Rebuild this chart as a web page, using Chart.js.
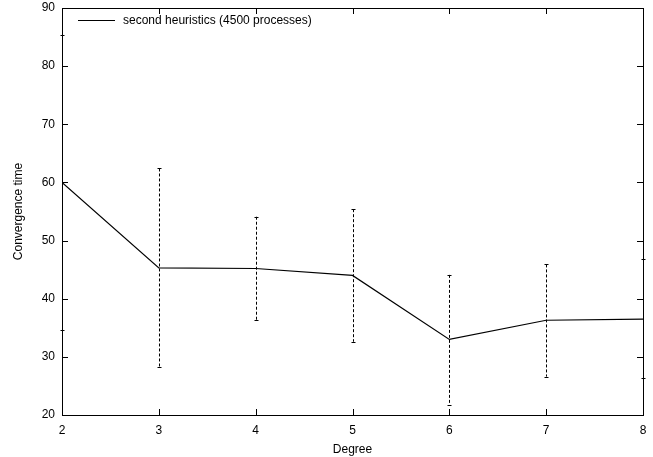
<!DOCTYPE html>
<html>
<head>
<meta charset="utf-8">
<script src="https://cdn.jsdelivr.net/npm/chart.js@4"></script>
<style>
  html, body { margin: 0; padding: 0; background: #fff; }
  #wrap { width: 653px; height: 457px; }
</style>
</head>
<body>
<div id="wrap"><canvas id="chart" width="653" height="457"></canvas></div>
<script>
// values
const degrees = [2, 3, 4, 5, 6, 7, 8];
const meanTime = [60.0, 45.3, 45.2, 44.0, 33.0, 36.3, 36.5];
const lowTime = [34.7, 28.2, 36.3, 32.6, 21.8, 26.6, 26.3];
const highTime = [85.3, 62.4, 54.1, 55.4, 44.1, 45.9, 46.8];
const seriesLabel = "second heuristics (4500 processes)";

const FONT = "'Liberation Sans', Arial, sans-serif";

// gnuplot-like frame, inward ticks, error bars and key
const gnuplotLook = {
  id: "gnuplotLook",
  afterDatasetsDraw(chart) {
    const ctx = chart.ctx;
    const area = chart.chartArea;
    const xs = chart.scales.x;
    const ys = chart.scales.y;
    const tick = 6;

    ctx.save();
    ctx.strokeStyle = "#000";
    ctx.lineWidth = 1;

    // error bars (dashed)
    ctx.setLineDash([3, 2]);
    for (let i = 0; i < degrees.length; i++) {
      const px = Math.round(xs.getPixelForValue(degrees[i])) + 0.5;
      const top = ys.getPixelForValue(highTime[i]);
      const bot = ys.getPixelForValue(lowTime[i]);
      ctx.beginPath();
      ctx.moveTo(px, top);
      ctx.lineTo(px, bot);
      ctx.stroke();
    }
    ctx.setLineDash([]);
    for (let i = 0; i < degrees.length; i++) {
      const px = Math.round(xs.getPixelForValue(degrees[i])) + 0.5;
      [highTime[i], lowTime[i]].forEach(function (v) {
        const py = Math.round(ys.getPixelForValue(v)) + 0.5;
        ctx.beginPath();
        ctx.moveTo(px - 2, py);
        ctx.lineTo(px + 2, py);
        ctx.stroke();
      });
    }

    // ticks on all four sides
    ctx.beginPath();
    xs.ticks.forEach(function (t) {
      const px = Math.round(xs.getPixelForValue(t.value)) + 0.5;
      ctx.moveTo(px, area.bottom);
      ctx.lineTo(px, area.bottom - tick);
      ctx.moveTo(px, area.top);
      ctx.lineTo(px, area.top + tick);
    });
    ys.ticks.forEach(function (t) {
      const py = Math.round(ys.getPixelForValue(t.value)) + 0.5;
      ctx.moveTo(area.left, py);
      ctx.lineTo(area.left + tick, py);
      ctx.moveTo(area.right, py);
      ctx.lineTo(area.right - tick, py);
    });
    ctx.stroke();

    // frame
    ctx.strokeRect(Math.round(area.left) + 0.5, Math.round(area.top) + 0.5,
      Math.round(area.right - area.left), Math.round(area.bottom - area.top));

    // key
    const ky = area.top + 12.5;
    ctx.beginPath();
    ctx.moveTo(area.left + 16, ky);
    ctx.lineTo(area.left + 53, ky);
    ctx.stroke();
    ctx.fillStyle = "#000";
    ctx.font = "12px " + FONT;
    ctx.textBaseline = "middle";
    ctx.textAlign = "left";
    ctx.fillText(seriesLabel, area.left + 61, ky);
    ctx.restore();
  }
};

const ctx = document.getElementById("chart").getContext("2d");
new Chart(ctx, {
  type: "line",
  data: {
    labels: degrees,
    datasets: [
      {
        label: seriesLabel,
        data: degrees.map(function (d, i) { return { x: d, y: meanTime[i] }; }),
        borderColor: "#000",
        borderWidth: 1.2,
        pointRadius: 0,
        fill: false,
        tension: 0,
      },
    ],
  },
  options: {
    responsive: false,
    animation: false,
    layout: { padding: { top: 8, right: 10, left: 0, bottom: 0 } },
    plugins: {
      legend: { display: false },
      tooltip: { enabled: false },
    },
    scales: {
      x: {
        type: "linear",
        min: 2,
        max: 8,
        grid: { display: false, drawTicks: false },
        border: { display: false },
        ticks: {
          stepSize: 1,
          color: "#000",
          padding: 8,
          font: { family: FONT, size: 12 },
        },
        title: {
          display: true,
          text: "Degree",
          color: "#000",
          font: { family: FONT, size: 12 },
          padding: { top: 0, bottom: 0 },
        },
        afterFit: function (scale) {
          scale.height = 42;
          scale.paddingLeft = 0;
          scale.paddingRight = 0;
        },
      },
      y: {
        min: 20,
        max: 90,
        grid: { display: false, drawTicks: false },
        border: { display: false },
        ticks: {
          stepSize: 10,
          color: "#000",
          padding: 7,
          font: { family: FONT, size: 12 },
        },
        title: {
          display: true,
          text: "Convergence time",
          color: "#000",
          font: { family: FONT, size: 12 },
          padding: { top: 11, bottom: 0 },
        },
        afterFit: function (scale) {
          scale.width = 62;
          scale.paddingTop = 0;
          scale.paddingBottom = 0;
        },
      },
    },
  },
  plugins: [gnuplotLook],
});
</script>
</body>
</html>
